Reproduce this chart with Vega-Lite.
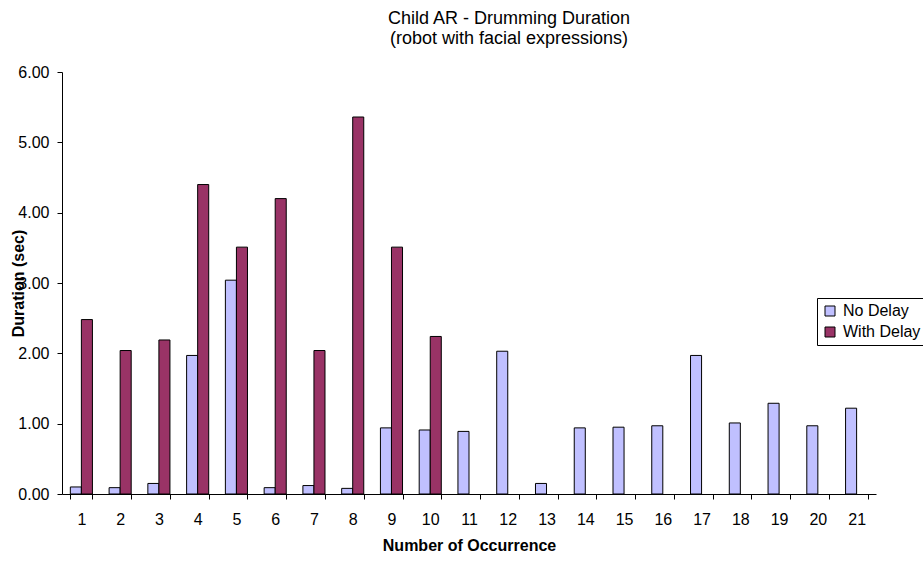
{
  "$schema": "https://vega.github.io/schema/vega-lite/v6.json",
  "width": 814,
  "height": 422,
  "autosize": {"type": "none"},
  "padding": {"left": 62, "top": 72, "right": 47, "bottom": 69},
  "background": "white",
  "config": {
    "font": "Liberation Sans",
    "view": {"stroke": null},
    "axis": {"grid": false, "domainColor": "black", "tickColor": "black", "labelColor": "black", "titleColor": "black"}
  },
  "title": {
    "text": ["Child AR - Drumming Duration", "(robot with facial expressions)"],
    "fontSize": 18,
    "fontWeight": "normal",
    "lineHeight": 20,
    "anchor": "middle",
    "frame": "group",
    "dx": 40,
    "offset": 16,
    "color": "black"
  },
  "data": {
    "values": [
      {"n": 1, "series": "No Delay", "dur": 0.10},
      {"n": 2, "series": "No Delay", "dur": 0.09},
      {"n": 3, "series": "No Delay", "dur": 0.15},
      {"n": 4, "series": "No Delay", "dur": 1.97},
      {"n": 5, "series": "No Delay", "dur": 3.04},
      {"n": 6, "series": "No Delay", "dur": 0.09},
      {"n": 7, "series": "No Delay", "dur": 0.12},
      {"n": 8, "series": "No Delay", "dur": 0.08},
      {"n": 9, "series": "No Delay", "dur": 0.94},
      {"n": 10, "series": "No Delay", "dur": 0.91},
      {"n": 11, "series": "No Delay", "dur": 0.89},
      {"n": 12, "series": "No Delay", "dur": 2.03},
      {"n": 13, "series": "No Delay", "dur": 0.15},
      {"n": 14, "series": "No Delay", "dur": 0.94},
      {"n": 15, "series": "No Delay", "dur": 0.95},
      {"n": 16, "series": "No Delay", "dur": 0.97},
      {"n": 17, "series": "No Delay", "dur": 1.97},
      {"n": 18, "series": "No Delay", "dur": 1.01},
      {"n": 19, "series": "No Delay", "dur": 1.29},
      {"n": 20, "series": "No Delay", "dur": 0.97},
      {"n": 21, "series": "No Delay", "dur": 1.22},
      {"n": 1, "series": "With Delay", "dur": 2.48},
      {"n": 2, "series": "With Delay", "dur": 2.04},
      {"n": 3, "series": "With Delay", "dur": 2.19},
      {"n": 4, "series": "With Delay", "dur": 4.40},
      {"n": 5, "series": "With Delay", "dur": 3.51},
      {"n": 6, "series": "With Delay", "dur": 4.20},
      {"n": 7, "series": "With Delay", "dur": 2.04},
      {"n": 8, "series": "With Delay", "dur": 5.36},
      {"n": 9, "series": "With Delay", "dur": 3.51},
      {"n": 10, "series": "With Delay", "dur": 2.24}
    ]
  },
  "mark": {"type": "bar", "stroke": "black", "strokeWidth": 1},
  "encoding": {
    "x": {
      "field": "n",
      "type": "ordinal",
      "scale": {"paddingInner": 0.43, "paddingOuter": 0.215},
      "axis": {
        "title": "Number of Occurrence",
        "titleFontSize": 16,
        "titleFontWeight": "bold",
        "titlePadding": 10,
        "labelFontSize": 16,
        "labelAngle": 0,
        "labelPadding": 12,
        "tickSize": 5,
        "tickBand": "extent"
      }
    },
    "xOffset": {"field": "series", "type": "nominal", "sort": ["No Delay", "With Delay"]},
    "y": {
      "field": "dur",
      "type": "quantitative",
      "scale": {"domain": [0, 6], "nice": false},
      "axis": {
        "title": "Duration (sec)",
        "titleFontSize": 16,
        "titleFontWeight": "bold",
        "titleX": -44,
        "titleY": 211,
        "titleAlign": "center",
        "titleBaseline": "middle",
        "values": [0, 1, 2, 3, 4, 5, 6],
        "format": ".2f",
        "labelFontSize": 16,
        "labelPadding": 8,
        "tickSize": 5
      }
    },
    "color": {
      "field": "series",
      "type": "nominal",
      "scale": {"domain": ["No Delay", "With Delay"], "range": ["#C0C0FF", "#993366"]},
      "legend": {
        "title": null,
        "orient": "none",
        "legendX": 755,
        "legendY": 226,
        "strokeColor": "black",
        "fillColor": "white",
        "padding": 5,
        "labelFontSize": 16,
        "labelColor": "black",
        "symbolType": "square",
        "symbolSize": 100,
        "symbolStrokeColor": "black",
        "symbolStrokeWidth": 1,
        "symbolOpacity": 1,
        "rowPadding": 5,
        "labelOffset": 5
      }
    }
  }
}
